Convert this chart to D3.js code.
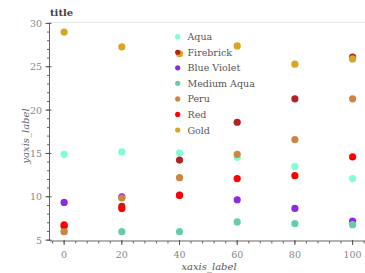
<!DOCTYPE html>
<html><head><meta charset="utf-8">
<script src="https://cdn.jsdelivr.net/npm/d3@7"></script>
<style>body{margin:0;background:#fff}svg{display:block}text{font-family:"DejaVu Serif",serif}</style>
</head><body><svg id="c" width="365" height="273"></svg>
<script>
const xs = [0, 20, 40, 60, 80, 100];
const seriesNames = ["Aqua","Firebrick","Blue Violet","Medium Aqua","Peru","Red","Gold"];
const seriesColors = ["#7fffd4","#b22222","#8a2be2","#66cdaa","#cd853f","#ff0000","#daa520"];
const aqua = [14.9, 15.17, 15.05, 14.55, 13.5, 12.1];
const firebrick = [6.6, 8.9, 14.24, 18.6, 21.3, 26.1];
const blueViolet = [9.35, 9.98, 10.2, 9.66, 8.66, 7.2];
const mediumAqua = [6.0, 5.97, 5.97, 7.1, 6.9, 6.78];
const peru = [5.97, 9.86, 12.2, 14.9, 16.6, 21.3];
const red = [6.75, 8.65, 10.16, 12.1, 12.43, 14.6];
const gold = [29.0, 27.3, 26.5, 27.4, 25.3, 25.9];
const allValues = [aqua, firebrick, blueViolet, mediumAqua, peru, red, gold];
const xTicks = [0,20,40,60,80,100];
const yTicks = [5,10,15,20,25,30];

const svg = d3.select("#c");
const x = d3.scaleLinear().domain([-4.9, 104.3]).range([50, 365]);
const y = d3.scaleLinear().domain([4.9, 30]).range([241, 23.4]);

// top frame line
svg.append("line").attr("x1",50).attr("x2",365).attr("y1",22.5).attr("y2",22.5).attr("stroke","#e6e6e6");

// x axis
const gx = svg.append("g").attr("transform","translate(0,241)");
gx.append("line").attr("x1",50).attr("x2",365).attr("stroke","#666");
gx.selectAll(".mn").data(d3.range(-4,105,4)).enter().append("line")
  .attr("x1",d=>x(d)).attr("x2",d=>x(d)).attr("y1",0).attr("y2",2.5).attr("stroke","#666");
gx.selectAll(".mj").data(xTicks).enter().append("line")
  .attr("x1",d=>x(d)).attr("x2",d=>x(d)).attr("y1",-1).attr("y2",4).attr("stroke","#555");
gx.selectAll("text").data(xTicks).enter().append("text")
  .attr("x",d=>x(d)).attr("y",17).attr("text-anchor","middle")
  .attr("font-size",9.5).attr("fill","#888").text(d=>d);

// y axis
const gy = svg.append("g").attr("transform","translate(49.5,0)");
gy.append("line").attr("y1",22.5).attr("y2",241).attr("stroke","#666");
gy.selectAll(".mn").data(d3.range(5,31,1)).enter().append("line")
  .attr("y1",d=>y(d)).attr("y2",d=>y(d)).attr("x1",-2.5).attr("x2",0).attr("stroke","#666");
gy.selectAll(".mj").data(yTicks).enter().append("line")
  .attr("y1",d=>y(d)).attr("y2",d=>y(d)).attr("x1",-4).attr("x2",2).attr("stroke","#555");
gy.selectAll("text").data(yTicks).enter().append("text")
  .attr("x",-7.5).attr("y",d=>y(d)+3.5).attr("text-anchor","end")
  .attr("font-size",9.5).attr("fill","#888").text(d=>d);

// labels
svg.append("text").attr("x",50).attr("y",15.5).attr("font-size",10).attr("font-weight","bold").attr("fill","#444").text("title");
svg.append("text").attr("x",209).attr("y",270).attr("text-anchor","middle").attr("font-size",10).attr("font-style","italic").attr("fill","#555").text("xaxis_label");
svg.append("text").attr("transform","translate(28.5,136) rotate(-90)").attr("text-anchor","middle").attr("font-size",10).attr("font-style","italic").attr("fill","#666").text("yaxis_label");

// points
seriesNames.forEach((n,i)=>{
  svg.append("g").selectAll("circle").data(allValues[i]).enter().append("circle")
    .attr("cx",(d,j)=>x(xs[j])).attr("cy",d=>y(d)).attr("r",3.6).attr("fill",seriesColors[i]);
});

// legend
const lg = svg.append("g");
seriesNames.forEach((n,i)=>{
  const yy = 36.7 + i*15.55;
  lg.append("circle").attr("cx",177.7).attr("cy",yy).attr("r",2.6).attr("fill",seriesColors[i]);
  lg.append("text").attr("x",187.5).attr("y",yy+3.5).attr("font-size",9.5).attr("fill","#555").text(n);
});
</script></body></html>
